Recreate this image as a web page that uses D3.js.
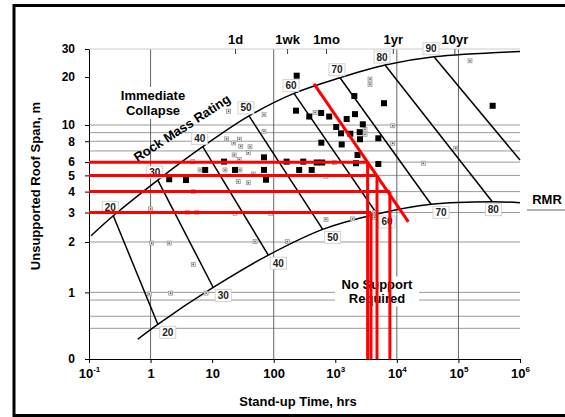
<!DOCTYPE html>
<html>
<head>
<meta charset="utf-8">
<script src="https://d3js.org/d3.v7.min.js"></script>
<style>
  html, body { margin: 0; padding: 0; background: #fff; }
  svg { display: block; font-family: "Liberation Sans", Arial, sans-serif; font-weight: bold; }
</style>
</head>
<body>
<svg id="chart" width="565" height="417"></svg>
<script>
// ===== Stand-up time chart (RMR) =====

// axes
const xTickValues = [0.1, 1, 10, 100, 1e3, 1e4, 1e5, 1e6];
const xTickLabels = [['10', '-1'], ['1', ''], ['10', ''], ['100', ''], ['10', '3'], ['10', '4'], ['10', '5'], ['10', '6']];
const yTickValues = [0.4, 1, 2, 3, 4, 5, 6, 8, 10, 20, 30];
const yTickLabels = ['0', '1', '2', '3', '4', '5', '6', '8', '10', '20', '30'];
const hGrid = [0.61, 0.72, 0.9, 1, 2, 3, 4, 5, 6, 7, 8, 9, 10];
const vGrid = [1, 100, 1e4, 1e5];
const timeMarks = ['1d', '1wk', '1mo', '1yr', '10yr'];
const timeHours = [24, 168, 720, 8760, 87600];

// RMR lines: corner on upper curve and on lower curve
const rmrValues = [20, 30, 40, 50, 60, 70, 80, 90];
const rmrTopHours = [0.248, 1.31, 7.03, 39.7, 213.6, 1194, 6427, 40100];
const rmrTopSpan = [2.87, 4.69, 7.42, 11.4, 15.8, 19.8, 23.8, 26.8];
const rmrLowHours = [1.31, 10.4, 81.7, 625, 4760, 35900, 355000, 1e6];
const rmrLowSpan = [0.645, 1.07, 1.67, 2.38, 2.94, 3.36, 3.48, 6.18];

// curve end points
const upperStart = [0.108, 2.18];
const upperEnd = [1e6, 28.9];
const lowerStart = [0.618, 0.525];
const lowerEnd = [1e6, 3.43];

// case histories
const solidHours = [236, 2037, 6180, 230, 378, 590, 796, 1531, 2090, 1035, 1239, 1754, 2800, 2494, 2520, 5000,
  593, 1271, 2296, 5000, 360000, 162, 302, 499, 613, 259, 414, 2170, 69.5, 69.5, 75, 15.6, 7.71, 23.5, 2.01, 3.76];
const solidSpan = [20.4, 15.2, 13.7, 12.3, 11.3, 11.9, 11.3, 10.9, 11.7, 9.73, 8.92, 8.87, 10.1, 9.06, 8.22, 8.33,
  7.84, 7.65, 6.62, 5.85, 13.2, 6.04, 6.04, 5.97, 5.97, 5.39, 5.39, 5.91, 6.41, 5.39, 4.71, 6.04, 5.39, 5.39, 4.74, 4.69];
const openHours = [18.5, 17.2, 22.4, 27.8, 29.1, 41.2, 38.7, 22.8, 27.5, 16.2, 28.3, 46.6, 26.6, 38.7, 6.35, 469,
  702, 964, 4.94, 4.83, 3664, 3664, 69.5, 69.5, 8570, 8570, 90300, 26900, 3040, 3040, 154000, 1.0, 1.04, 2.01,
  4.94, 0.953, 2.12, 7.95, 49.7, 166, 3.95, 5.61, 23.5, 89.3, 707, 1905, 4300, 4300];
const openSpan = [12.2, 8.27, 7.81, 8.22, 7.46, 7.42, 6.83, 6.62, 6.22, 5.39, 5.39, 5.10, 4.59, 4.52, 5.39, 12.0,
  4.94, 5.96, 4.0, 6.04, 19.4, 18.0, 11.6, 9.17, 9.9, 7.78, 7.26, 5.91, 9.42, 8.80, 25.3, 3.15, 1.97, 1.97,
  1.47, 0.98, 0.99, 0.99, 2.01, 2.01, 3.01, 3.01, 2.97, 2.97, 2.73, 2.75, 2.99, 2.81];

// red design example
const redDiagHours = [451, 15400];
const redDiagSpan = [18.1, 2.64];
const redSpans = [6, 5, 4, 3];
const redHours = [3350, 4760, 7700, 3800];

const svg = d3.select('#chart');
const x = d3.scaleLog().domain([0.1, 1e6]).range([89, 520]);
const y = d3.scaleLog().domain([0.4, 10, 30]).range([359, 125, 49]);
const x0 = x.range()[0], x1 = x.range()[1];

// outer frame
svg.append('rect')
    .attr('x', 14).attr('y', 5.5).attr('width', 600).attr('height', 410)
    .attr('fill', 'none').attr('stroke', '#000').attr('stroke-width', 3);

// grid
const grid = svg.append('g');
grid.selectAll('line.h').data(hGrid).join('line').attr('class', 'h')
    .attr('x1', x0).attr('x2', x1)
    .attr('y1', d => y(d)).attr('y2', d => y(d))
    .attr('stroke', '#999').attr('stroke-width', 1);
grid.selectAll('line.v').data(vGrid).join('line').attr('class', 'v')
    .attr('x1', d => x(d)).attr('x2', d => x(d))
    .attr('y1', y(30)).attr('y2', y(0.4))
    .attr('stroke', '#666').attr('stroke-width', 1);
grid.append('line')
    .attr('x1', x0).attr('x2', x1).attr('y1', y(30)).attr('y2', y(30))
    .attr('stroke', '#ccc').attr('stroke-width', 1);

// top time marks
grid.selectAll('line.t').data(timeHours).join('line').attr('class', 't')
    .attr('x1', d => x(d)).attr('x2', d => x(d))
    .attr('y1', y(30)).attr('y2', y(30) + 5)
    .attr('stroke', '#444');
svg.selectAll('text.tm').data(timeMarks).join('text').attr('class', 'tm')
    .attr('x', (d, i) => x(timeHours[i])).attr('y', 44)
    .attr('text-anchor', 'middle').attr('font-size', 13)
    .text(d => d);

// text boxes with white background
function textBlock(lines, cx, cy, w, h) {
    svg.append('rect').attr('x', cx - w / 2).attr('y', cy - h / 2).attr('width', w).attr('height', h).attr('fill', '#fff');
    lines.forEach((t, i) => {
        svg.append('text').attr('x', cx).attr('y', cy + (i - (lines.length - 1) / 2) * 14.5 + 4.5)
            .attr('text-anchor', 'middle').attr('font-size', 13).text(t);
    });
}
textBlock(['Immediate', 'Collapse'], 153, 103, 74, 32);
textBlock(['No Support', 'Required'], 377, 291.5, 84, 30);

svg.append('text')
    .attr('transform', 'translate(182,128) rotate(-33)')
    .attr('text-anchor', 'middle').attr('dominant-baseline', 'central')
    .attr('font-size', 13).text('Rock Mass Rating');

// curves
const line = d3.line().x(d => x(d[0])).y(d => y(d[1])).curve(d3.curveCatmullRom.alpha(0.5));
const upperPts = [upperStart].concat(rmrTopHours.map((h, i) => [h, rmrTopSpan[i]]), [upperEnd]);
const lowerPts = [lowerStart].concat(rmrLowHours.slice(0, 7).map((h, i) => [h, rmrLowSpan[i]]), [lowerEnd]);
svg.append('path').attr('d', line(upperPts)).attr('fill', 'none').attr('stroke', '#000').attr('stroke-width', 1.5);
svg.append('path').attr('d', line(lowerPts)).attr('fill', 'none').attr('stroke', '#000').attr('stroke-width', 1.5);

svg.selectAll('line.rmr').data(rmrValues).join('line').attr('class', 'rmr')
    .attr('x1', (d, i) => x(rmrTopHours[i])).attr('y1', (d, i) => y(rmrTopSpan[i]))
    .attr('x2', (d, i) => x(rmrLowHours[i])).attr('y2', (d, i) => y(rmrLowSpan[i]))
    .attr('stroke', '#000').attr('stroke-width', 1.5);

// RMR value labels
function boxLabel(t, cx, cy) {
    svg.append('rect').attr('x', cx - 8).attr('y', cy - 6).attr('width', 16).attr('height', 12)
        .attr('fill', '#fff').attr('stroke', '#c8c8c8').attr('stroke-width', 0.8);
    svg.append('text').attr('x', cx).attr('y', cy + 3.5).attr('text-anchor', 'middle')
        .attr('font-size', 10).attr('fill', '#222').text(t);
}
rmrValues.forEach((v, i) => {
    boxLabel(v, x(rmrTopHours[i]) - 3, y(rmrTopSpan[i]) - 8);
    if (i < 7) boxLabel(v, x(rmrLowHours[i]) + (i === 6 ? 1 : 10), y(rmrLowSpan[i]) + 8);
});

// case histories
svg.selectAll('rect.open').data(openHours).join('rect').attr('class', 'open')
    .attr('x', (d, i) => x(d) - 2).attr('y', (d, i) => y(openSpan[i]) - 2)
    .attr('width', 4).attr('height', 4)
    .attr('fill', '#eee').attr('stroke', '#999').attr('stroke-width', 0.8);
svg.selectAll('rect.dot').data(openHours).join('rect').attr('class', 'dot')
    .attr('x', (d, i) => x(d) - 0.75).attr('y', (d, i) => y(openSpan[i]) - 0.75)
    .attr('width', 1.5).attr('height', 1.5).attr('fill', '#555');
svg.selectAll('rect.solid').data(solidHours).join('rect').attr('class', 'solid')
    .attr('x', d => x(d) - 3).attr('y', (d, i) => y(solidSpan[i]) - 3)
    .attr('width', 6).attr('height', 6).attr('fill', '#000');

// axes
const fontFamily = '"Liberation Sans", Arial, sans-serif';
const yAxis = svg.append('g').attr('transform', `translate(${x0},0)`)
    .call(d3.axisLeft(y).tickValues(yTickValues).tickFormat((d, i) => yTickLabels[i])
        .tickSize(4).tickSizeOuter(0).tickPadding(10));
yAxis.attr('font-family', fontFamily).attr('font-size', 12).attr('font-weight', 'bold');
yAxis.selectAll('text').attr('fill', '#000');
yAxis.selectAll('line, path').attr('stroke', '#000');

const xAxis = svg.append('g').attr('transform', `translate(0,${y(0.4)})`)
    .call(d3.axisBottom(x).tickValues(xTickValues).tickFormat('').tickSize(4).tickSizeOuter(0));
xAxis.attr('font-family', fontFamily).attr('font-size', 13).attr('font-weight', 'bold');
xAxis.selectAll('line, path').attr('stroke', '#000');
xAxis.selectAll('.tick text').each(function(d, i) {
    const t = d3.select(this).attr('y', 19).attr('dy', null).attr('fill', '#000');
    t.append('tspan').text(xTickLabels[i][0]);
    if (xTickLabels[i][1]) t.append('tspan').attr('dy', -6).attr('font-size', 8).text(xTickLabels[i][1]);
});

// axis titles
svg.append('text').attr('transform', 'translate(40,186) rotate(-90)')
    .attr('text-anchor', 'middle').attr('font-size', 13).text('Unsupported Roof Span, m');
svg.append('text').attr('x', 298).attr('y', 406)
    .attr('text-anchor', 'middle').attr('font-size', 13).text('Stand-up Time, hrs');

// RMR legend text
svg.append('text').attr('x', 547).attr('y', 204).attr('text-anchor', 'middle').attr('font-size', 13).text('RMR');
svg.append('line').attr('x1', 527).attr('x2', 566).attr('y1', 210).attr('y2', 210)
    .attr('stroke', '#999').attr('stroke-width', 1.5);

// red design lines
const red = svg.append('g').attr('stroke', '#f00').attr('stroke-width', 3);
red.append('line')
    .attr('x1', x(redDiagHours[0])).attr('y1', y(redDiagSpan[0]))
    .attr('x2', x(redDiagHours[1])).attr('y2', y(redDiagSpan[1]));
red.selectAll('line.rh').data(redSpans).join('line').attr('class', 'rh')
    .attr('x1', x0).attr('x2', (d, i) => x(redHours[i]))
    .attr('y1', d => y(d)).attr('y2', d => y(d));
red.selectAll('line.rv').data(redSpans).join('line').attr('class', 'rv')
    .attr('x1', (d, i) => x(redHours[i])).attr('x2', (d, i) => x(redHours[i]))
    .attr('y1', d => y(d)).attr('y2', y(0.4));
</script>
</body>
</html>
